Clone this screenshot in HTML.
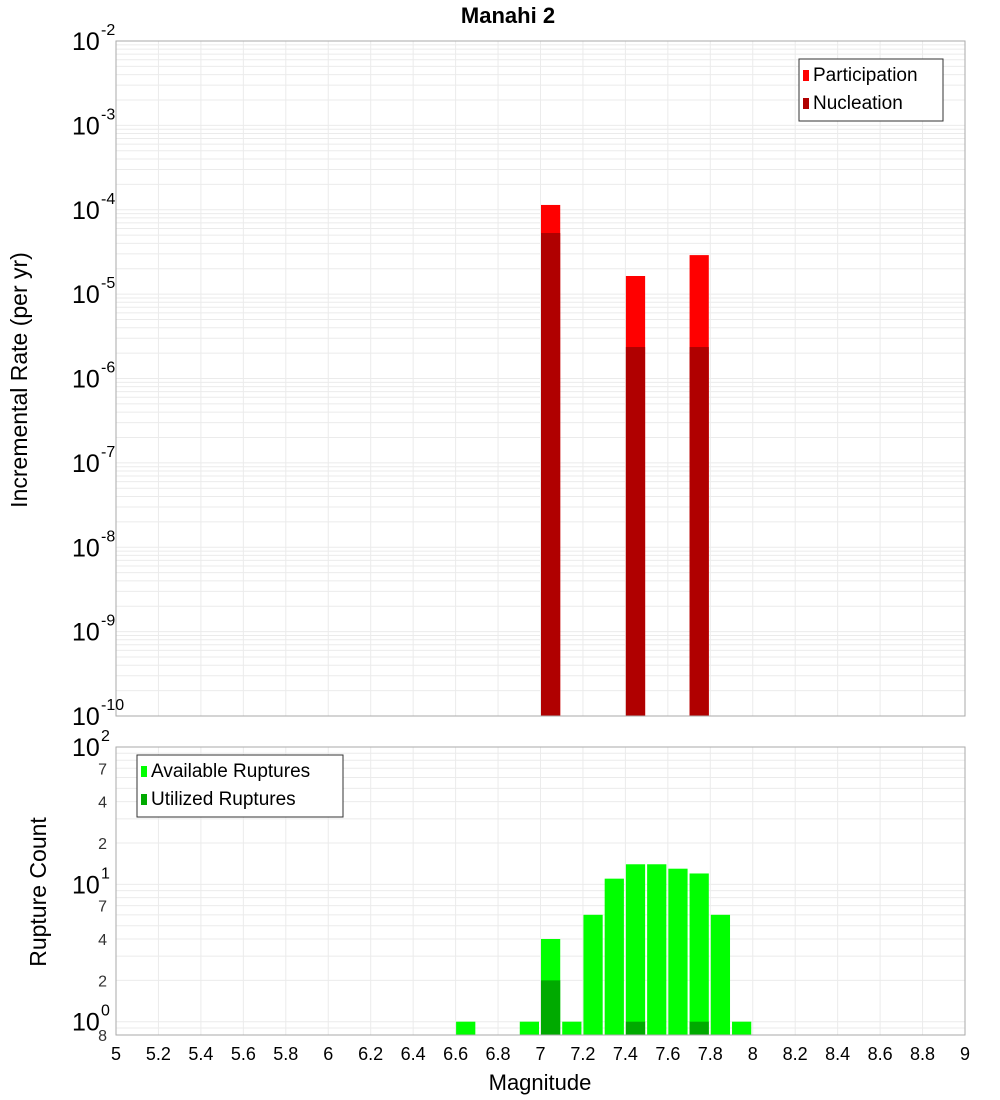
<!DOCTYPE html>
<html><head><meta charset="utf-8"><style>
body{margin:0;background:#fff;}
svg{display:block;font-family:"Liberation Sans","DejaVu Sans",sans-serif;}
</style></head><body>
<svg id="c" width="1000" height="1100"></svg>
<script>
const topMags = [7.05, 7.45, 7.75];
const participation = [1.14e-4, 1.64e-5, 2.9e-5];
const nucleation = [5.3e-5, 2.36e-6, 2.36e-6];
const botMags = [6.65, 6.95, 7.05, 7.15, 7.25, 7.35, 7.45, 7.55, 7.65, 7.75, 7.85, 7.95];
const available = [1, 1, 4, 1, 6, 11, 14, 14, 13, 12, 6, 1];
const utilMags = [7.05, 7.45, 7.75];
const utilized = [2, 1, 1];
const xTicks = [5,5.2,5.4,5.6,5.8,6,6.2,6.4,6.6,6.8,7,7.2,7.4,7.6,7.8,8,8.2,8.4,8.6,8.8,9];

const NS="http://www.w3.org/2000/svg";
const svg=document.getElementById('c');
function el(t,a,p){const e=document.createElementNS(NS,t);for(const k in a)e.setAttribute(k,a[k]);(p||svg).appendChild(e);return e;}
const X0=116,X1=965;
const x=m=>X0+(m-5)/4*(X1-X0);
const TY0=41,TY1=716;
const yTop=v=>TY0+(-2-Math.log10(v))/8*(TY1-TY0);
const BY0=747,BY1=1035;
const yBot=v=>BY0+(2-Math.log10(v))/Math.log10(100/0.8)*(BY1-BY0);

function grid(y0,y1,yf,lo,hi){
  const g=el('g',{});
  
  
  for(let d=lo;d<hi;d++)for(let k=1;k<10;k++){const v=k*Math.pow(10,d);const yy=yf(v);if(yy<y0-0.1||yy>y1+0.1)continue;
    el('line',{x1:X0,x2:X1,y1:yy,y2:yy,stroke:'#ebebeb','stroke-width':1},g);}
  xTicks.forEach(t=>el('line',{x1:x(t),x2:x(t),y1:y0,y2:y1,stroke:'#ebebeb','stroke-width':1},g));
}
grid(TY0,TY1,yTop,-10,-2);
grid(BY0,BY1,yBot,-1,2);

// title
let t=el('text',{x:508,y:23,'font-size':22,'font-weight':'bold','text-anchor':'middle'});t.textContent='Manahi 2';


function bar(m,v,yf,yb,fill,name){
  const bx=x(m-0.05)+0.5,bw=x(m+0.05)-x(m-0.05)-2;const yy=yf(v);
  const r=el('rect',{x:bx,y:yy,width:bw,height:yb-yy,fill:fill});
  
  
}
topMags.forEach((m,i)=>bar(m,participation[i],yTop,TY1,'#ff0000','participation-bar'));
topMags.forEach((m,i)=>bar(m,nucleation[i],yTop,TY1,'#b00000','nucleation-bar'));
botMags.forEach((m,i)=>bar(m,available[i],yBot,BY1,'#00ff00','available-bar'));
utilMags.forEach((m,i)=>bar(m,utilized[i],yBot,BY1,'#00aa00','utilized-bar'));

// frames
el('rect',{x:X0,y:TY0,width:X1-X0,height:TY1-TY0,fill:'none',stroke:'#aaa'});
el('rect',{x:X0,y:BY0,width:X1-X0,height:BY1-BY0,fill:'none',stroke:'#aaa'});

// top y labels
for(let d=-2;d>=-10;d--){const yy=yTop(Math.pow(10,d));
  const tx=el('text',{x:72,y:yy+9,'font-size':25});tx.textContent='10';
  
  const s=el('text',{x:101,y:yy-6,'font-size':16});s.textContent=String(d);
  }
// bottom y labels
[[100,'2'],[10,'1'],[1,'0']].forEach(([v,e])=>{const yy=yBot(v);
  const tx=el('text',{x:72,y:yy+9,'font-size':25});tx.textContent='10';
  
  const s=el('text',{x:101,y:yy-6,'font-size':16});s.textContent=e;
  });
[[70,'7'],[40,'4'],[20,'2'],[7,'7'],[4,'4'],[2,'2'],[0.8,'8']].forEach(([v,l])=>{
  const tx=el('text',{x:107,y:yBot(v)+6,'font-size':16,'text-anchor':'end',fill:'#333'});tx.textContent=l;
  });
// x labels
xTicks.forEach(v=>{const tx=el('text',{x:x(v),y:1060,'font-size':18,'text-anchor':'middle'});tx.textContent=String(v);
  });
t=el('text',{x:540,y:1090,'font-size':22,'text-anchor':'middle'});t.textContent='Magnitude';

t=el('text',{x:0,y:0,'font-size':23,'text-anchor':'middle',transform:'translate(27,380) rotate(-90)'});t.textContent='Incremental Rate (per yr)';

t=el('text',{x:0,y:0,'font-size':23,'text-anchor':'middle',transform:'translate(46,892) rotate(-90)'});t.textContent='Rupture Count';


// legends
function legend(lx,ly,w,items,name){
  const g=el('g',{});
  el('rect',{x:lx,y:ly,width:w,height:62,fill:'#fff',stroke:'#333'},g);
  items.forEach(([c,l],i)=>{el('rect',{x:lx+4,y:ly+11+i*28,width:6,height:11,fill:c},g);
    const tx=el('text',{x:lx+14,y:ly+22+i*28,'font-size':19},g);tx.textContent=l;});
}
legend(799,59,144,[['#ff0000','Participation'],['#b00000','Nucleation']],'legend-top');
legend(137,755,206,[['#00ff00','Available Ruptures'],['#00aa00','Utilized Ruptures']],'legend-bottom');
</script>
</body></html>
